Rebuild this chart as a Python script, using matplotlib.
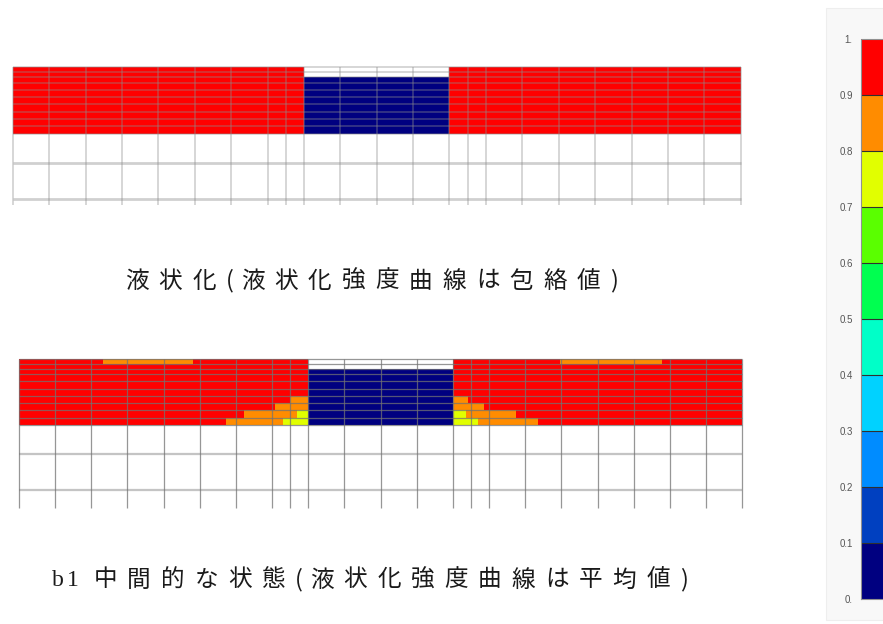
import numpy as np
import matplotlib
matplotlib.use("Agg")
import matplotlib.pyplot as plt
from matplotlib.colors import ListedColormap, BoundaryNorm
from matplotlib.cm import ScalarMappable
from matplotlib.patches import Rectangle

W, H = 883, 624

# ---- mesh geometry (one column = 1 unit) ----
col_edges = [0, 1, 2, 3, 4, 5, 6, 7, 7.5, 8, 9, 10, 11, 12, 12.5, 13,
             14, 15, 16, 17, 18, 19, 20]
layer_edges = [0, 0.14, 0.28, 0.42, 0.62, 0.82, 1.02, 1.22, 1.42, 1.62, 1.82]
deep_edges = [2.63, 3.625]

# improved block in the middle and the void rows above it
pit_x0, pit_x1 = 8, 12
pit_void_rows = 2

ground_value = 0.95   # fully liquefied
block_value = 0.05    # improved block

# case b1: partially liquefied zones (row index, x from, x to, value)
b1_row = [0, 0, 6, 6, 7, 7, 8, 8, 8, 8, 9, 9, 9, 9]
b1_x0 = [2.31, 14.96, 7.50, 12.00, 7.08, 12.00, 6.22, 7.68, 12.00, 12.35,
         5.71, 7.31, 12.00, 12.70]
b1_x1 = [4.82, 17.79, 8.00, 12.42, 8.00, 12.87, 7.68, 8.00, 12.35, 13.75,
         7.31, 8.00, 12.70, 14.34]
b1_val = [0.85, 0.85, 0.85, 0.85, 0.85, 0.85, 0.85, 0.75, 0.75, 0.85,
          0.85, 0.75, 0.75, 0.85]

# colour scale
levels = [0.0, 0.1, 0.2, 0.3, 0.4, 0.5, 0.6, 0.7, 0.8, 0.9, 1.0]
level_labels = ["0.", "0.1", "0.2", "0.3", "0.4", "0.5", "0.6", "0.7",
                "0.8", "0.9", "1."]
band_colors = ["#000080", "#0040c0", "#008cff", "#00d2ff", "#00ffc8",
               "#00ff50", "#5aff00", "#e1ff00", "#ff8c00", "#ff0000"]

caption_top = "液状化(液状化強度曲線は包絡値)"
caption_bottom = "b1 中間的な状態(液状化強度曲線は平均値)"

cmap = ListedColormap(band_colors)
norm = BoundaryNorm(levels, cmap.N)


def build_field(rows=(), x0=(), x1=(), vals=()):
    xb = np.unique(np.concatenate([col_edges, x0, x1]))
    xc = 0.5 * (xb[:-1] + xb[1:])
    nrow = len(layer_edges) - 1
    field = np.full((nrow, len(xc)), ground_value)
    inside = (xc > pit_x0) & (xc < pit_x1)
    field[:, inside] = block_value
    field[:pit_void_rows, inside] = np.nan
    for r, a, b, v in zip(rows, x0, x1, vals):
        field[r, (xc > a) & (xc < b)] = v
    return xb, np.ma.masked_invalid(field)


def draw_mesh(ax, field_args, depth, line_col, deep_col, lw):
    xb, field = build_field(*field_args)
    ax.pcolormesh(xb, layer_edges, field, cmap=cmap, norm=norm,
                  shading="flat", edgecolors="none", antialiased=False)
    ax.hlines(deep_edges, 0, 20, colors=deep_col, lw=lw * 1.8, clip_on=False)
    ax.hlines(layer_edges, 0, 20, colors=line_col, lw=lw, clip_on=False)
    ax.vlines(col_edges, 0, depth, colors=line_col, lw=lw, clip_on=False)
    ax.set_xlim(0, 20)
    ax.set_ylim(depth, 0)
    ax.axis("off")


fig = plt.figure(figsize=(W / 100, H / 100), dpi=100)
fig.patch.set_facecolor("white")


def px_axes(x0, y0, x1, y1):
    return fig.add_axes([x0 / W, 1 - y1 / H, (x1 - x0) / W, (y1 - y0) / H])


ax_top = px_axes(12.7, 67.3, 740.7, 205.0)
draw_mesh(ax_top, (), 3.78, (0.55, 0.55, 0.55, 0.45), "#d0d0d0", 1.1)

ax_bot = px_axes(19.0, 359.0, 742.3, 508.0)
draw_mesh(ax_bot, (b1_row, b1_x0, b1_x1, b1_val), 4.12,
          (0.45, 0.45, 0.45, 0.75), "#c4c4c4", 0.9)

# legend panel behind the colour bar
fig.patches.append(Rectangle((826 / W, 1 - 620 / H), 60 / W, 612 / H,
                             transform=fig.transFigure, facecolor="#f8f8f8",
                             edgecolor="#eeeeee", lw=0.8, zorder=-5))
cax = px_axes(861, 39, 895, 599)
cax.set_zorder(5)
cb = fig.colorbar(ScalarMappable(norm=norm, cmap=cmap), cax=cax,
                  ticks=levels, drawedges=True, spacing="uniform")
cb.dividers.set_color("#303030")
cb.dividers.set_linewidth(0.8)
cb.outline.set_edgecolor("#909090")
cb.outline.set_linewidth(0.8)
cax.yaxis.set_ticks_position("left")
cax.set_yticklabels(level_labels)
cax.tick_params(length=0, pad=6, labelsize=7, labelcolor="#555555")
for t in cax.get_yticklabels():
    t.set_family("Liberation Sans")


def spaced_caption(text, x_start, y_mid, size, spacing):
    em = size * 100 / 72
    x = x_start
    for ch in text:
        if ch == " ":
            x += 0.5 * em
            continue
        ascii_ch = ord(ch) < 128
        fam = ["Liberation Serif"] if ch.isalnum() and ascii_ch else ["Noto Sans CJK JP", "DejaVu Sans"]
        fig.text(x / W, 1 - y_mid / H, ch, fontsize=size, family=fam,
                 ha="left", va="center", color="#1a1a1a")
        if ch in "()":
            x += 0.42 * em + spacing * 0.5
        elif ascii_ch:
            x += 0.5 * em + spacing * 0.3
        else:
            x += em + spacing


spaced_caption(caption_top, 125, 281, 17, 10)
spaced_caption(caption_bottom, 52, 580, 17, 10.0)

fig.savefig("out.png", dpi=100)
